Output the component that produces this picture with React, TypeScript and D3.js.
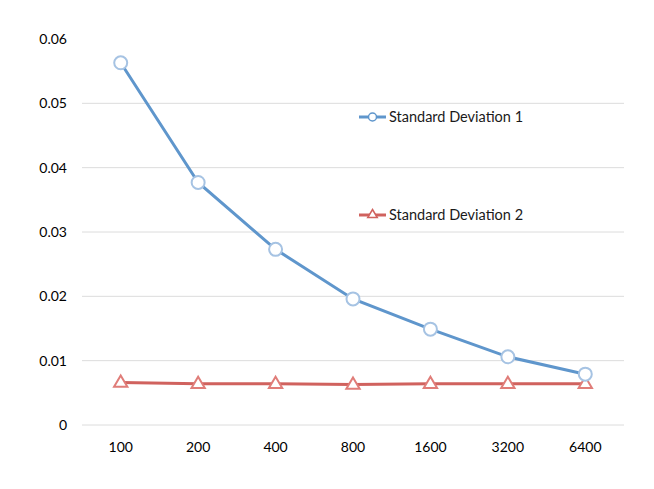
import * as d3 from "d3";

const sampleSizes = ["100", "200", "400", "800", "1600", "3200", "6400"];
const stdDev1 = [0.0563, 0.0377, 0.0273, 0.0196, 0.0149, 0.0106, 0.0079];
const stdDev2 = [0.0066, 0.0064, 0.0064, 0.0063, 0.0064, 0.0064, 0.0064];
const yTicks = [0, 0.01, 0.02, 0.03, 0.04, 0.05, 0.06];

const width = 654;
const height = 489;
const marginLeft = 82;
const marginRight = 30;
const marginTop = 39;
const marginBottom = 64;

const font = "Lato, 'Open Sans', sans-serif";
const blueLine = "#5f96cc";
const blueMarker = "#a6c3e3";
const redLine = "#d0625e";
const redMarker = "#e07d79";

export default function App() {
  const x = d3
    .scaleBand<string>()
    .domain(sampleSizes)
    .range([marginLeft, width - marginRight]);
  const y = d3
    .scaleLinear()
    .domain([0, 0.06])
    .range([height - marginBottom, marginTop]);

  const cx = (i: number) => (x(sampleSizes[i]) ?? 0) + x.bandwidth() / 2;
  const line = d3.line<number>((_, i) => cx(i), (d) => y(d));

  const tri = (px: number, py: number, r = 7) =>
    `M${px},${py - r}L${px + r * 0.95},${py + r * 0.6}L${px - r * 0.95},${py + r * 0.6}Z`;

  return (
    <svg width={width} height={height} style={{ position: "absolute", left: 0, top: 0, background: "#fff" }}>
      {/* grid */}
      <g stroke="#dcdcdc" strokeWidth={1}>
        {yTicks.slice(0, -1).map((t) => (
          <line key={t} x1={marginLeft} x2={width - marginRight} y1={y(t)} y2={y(t)} />
        ))}
      </g>
      {/* y labels */}
      <g fontFamily={font} fontSize={14} fill="#000" textAnchor="end">
        {yTicks.map((t) => (
          <text key={t} x={67} y={y(t)} dy="0.35em">
            {t === 0 ? "0" : d3.format(".2f")(t)}
          </text>
        ))}
      </g>
      {/* x labels */}
      <g fontFamily={font} fontSize={14} fill="#000" textAnchor="middle">
        {sampleSizes.map((s, i) => (
          <text key={s} x={cx(i)} y={y(0) + 22} dy="0.35em">
            {s}
          </text>
        ))}
      </g>
      {/* series 2 */}
      <path d={line(stdDev2) || undefined} fill="none" stroke={redLine} strokeWidth={3} />
      {stdDev2.map((d, i) => (
        <path key={i} d={tri(cx(i), y(d))} fill="#fff" stroke={redMarker} strokeWidth={2} />
      ))}
      {/* series 1 */}
      <path d={line(stdDev1) || undefined} fill="none" stroke={blueLine} strokeWidth={3} />
      {stdDev1.map((d, i) => (
        <circle key={i} cx={cx(i)} cy={y(d)} r={6.5} fill="#fff" stroke={blueMarker} strokeWidth={2} />
      ))}
      {/* legend */}
      <g fontFamily={font} fontSize={14.5} fill="#1a1a1a">
        <line x1={359} x2={386} y1={117} y2={117} stroke={blueLine} strokeWidth={3} />
        <circle cx={372.5} cy={117} r={4} fill="#fff" stroke={blueLine} strokeWidth={1.5} />
        <text x={389} y={117} dy="0.35em">Standard Deviation 1</text>
        <line x1={359} x2={386} y1={215} y2={215} stroke={redLine} strokeWidth={3} />
        <path d={tri(372.5, 214.5, 5)} fill="#fff" stroke={redLine} strokeWidth={1.5} />
        <text x={389} y={215} dy="0.35em">Standard Deviation 2</text>
      </g>
    </svg>
  );
}
